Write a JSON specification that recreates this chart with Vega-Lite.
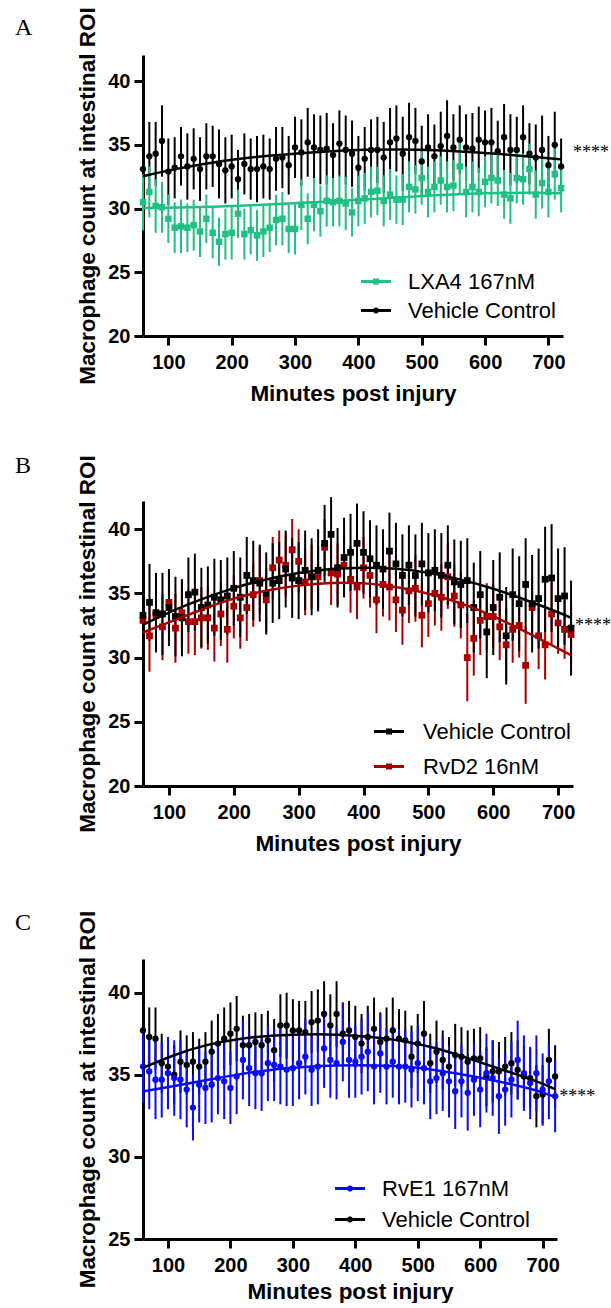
{
"$schema":"https://vega.github.io/schema/vega-lite/v6.json",
"padding":{"left":15,"top":6,"right":0,"bottom":0},
"config":{
 "view":{"stroke":null},
 "font":"Liberation Sans",
 "axis":{"domainColor":"black","domainWidth":3,"tickColor":"black","tickWidth":3,"tickSize":9,"grid":false,"labelFont":"Liberation Sans","labelFontWeight":"bold","labelFontSize":20,"labelColor":"black","titleFont":"Liberation Sans","titleFontWeight":"bold","titleFontSize":22.5,"titleColor":"black"},
 "axisX":{"labelPadding":7,"titlePadding":10},
 "axisY":{"labelPadding":4,"titlePadding":8},
 "legend":{"padding":0,"labelFont":"Liberation Sans","labelFontSize":22,"labelColor":"black","symbolSize":900,"symbolStrokeWidth":3},
 "title":{"font":"Liberation Serif","fontSize":24,"fontWeight":"normal","anchor":"start","frame":"group","baseline":"alphabetic","color":"black"}
},
"spacing":48,
"resolve":{"scale":{"color":"independent","shape":"independent","x":"independent","y":"independent"}},
"vconcat":[
{
 "width":420,"height":281,
 "title":{"text":"A","dx":-128,"offset":-33},
 "layer":[
  {"data":{"name":"A"},"transform":[{"filter":"datum.m < 0"}],"mark":{"type":"point","filled":false,"opacity":1,"strokeWidth":3,"size":900},"encoding":{
   "x":{"field":"m","type":"quantitative","title":"Minutes post injury","scale":{"domain":[60,723],"nice":false,"zero":false},"axis":{"values":[100,200,300,400,500,600,700]}},
   "y":{"field":"v","type":"quantitative","title":"Macrophage count at intestinal ROI","scale":{"domain":[20,42.05],"nice":false,"zero":false},"axis":{"values":[20,25,30,35,40]}},
   "color":{"field":"s","type":"nominal","scale":{"domain":["LXA4 167nM","Vehicle Control"],"range":["#20C084","#000000"]},"legend":{"title":null,"orient":"none","legendX":216.5,"legendY":210,"labelOffset":15.5,"rowPadding":1}},
   "shape":{"field":"s","type":"nominal","scale":{"domain":["LXA4 167nM","Vehicle Control"],"range":["M-1,0H1M-0.1,-0.1H0.1V0.1H-0.1Z","M-1,0H1M0.1,0L0.07,0.07L0,0.1L-0.07,0.07L-0.1,0L-0.07,-0.07L0,-0.1L0.07,-0.07Z"]},"legend":{"title":null,"orient":"none","legendX":216.5,"legendY":210,"labelOffset":15.5,"rowPadding":1}}}},
  {"data":{"name":"A"},"mark":{"type":"errorbar","thickness":2},"encoding":{
   "x":{"field":"m","type":"quantitative","title":"Minutes post injury"},"y":{"field":"v","type":"quantitative","title":"Macrophage count at intestinal ROI"},"yError":{"field":"e"},
   "color":{"field":"s","type":"nominal","legend":null}}},
  {"data":{"name":"A"},"transform":[{"filter":"datum.s === 'Vehicle Control'"}],"mark":{"type":"point","filled":true,"opacity":1,"size":40,"shape":"circle"},"encoding":{
   "x":{"field":"m","type":"quantitative"},"y":{"field":"v","type":"quantitative"},"color":{"field":"s","type":"nominal","legend":null}}},
  {"data":{"name":"A"},"transform":[{"filter":"datum.s === 'LXA4 167nM'"}],"mark":{"type":"point","filled":true,"opacity":1,"size":42,"shape":"square"},"encoding":{
   "x":{"field":"m","type":"quantitative"},"y":{"field":"v","type":"quantitative"},"color":{"field":"s","type":"nominal","legend":null}}},
  {"data":{"name":"Afit"},"mark":{"type":"line","interpolate":"basis","strokeWidth":2.5},"encoding":{
   "x":{"field":"m","type":"quantitative"},"y":{"field":"v","type":"quantitative"},"color":{"field":"s","type":"nominal","legend":null}}},
  {"data":{"values":[{"m":720,"v":34.6,"t":"****"}]},"mark":{"type":"text","align":"left","baseline":"middle","dx":12,"dy":3,"font":"Liberation Serif","fontSize":18,"color":"black"},"encoding":{
   "x":{"field":"m","type":"quantitative"},"y":{"field":"v","type":"quantitative"},"text":{"field":"t"}}}
 ]
},
{
 "vconcat":[
 {
 "width":430,"height":285,
 "title":{"text":"B","dx":-128,"offset":-23},
 "layer":[
  {"data":{"name":"B"},"transform":[{"filter":"datum.m < 0"}],"mark":{"type":"point","filled":false,"opacity":1,"strokeWidth":3,"size":900},"encoding":{
   "x":{"field":"m","type":"quantitative","title":"Minutes post injury","scale":{"domain":[60,723],"nice":false,"zero":false},"axis":{"values":[100,200,300,400,500,600,700]}},
   "y":{"field":"v","type":"quantitative","title":"Macrophage count at intestinal ROI","scale":{"domain":[20,42.2],"nice":false,"zero":false},"axis":{"values":[20,25,30,35,40]}},
   "color":{"field":"s","type":"nominal","scale":{"domain":["Vehicle Control","RvD2 16nM"],"range":["#000000","#A80000"]},"legend":{"title":null,"orient":"none","legendX":229.5,"legendY":214,"labelOffset":17.5,"rowPadding":7}},
   "shape":{"field":"s","type":"nominal","scale":{"domain":["Vehicle Control","RvD2 16nM"],"range":["M-1,0H1M-0.1,-0.1H0.1V0.1H-0.1Z","M-1,0H1M-0.1,-0.1H0.1V0.1H-0.1Z"]},"legend":{"title":null,"orient":"none","legendX":229.5,"legendY":214,"labelOffset":17.5,"rowPadding":7}}}},
  {"data":{"name":"B"},"mark":{"type":"errorbar","thickness":2},"encoding":{
   "x":{"field":"m","type":"quantitative","title":"Minutes post injury"},"y":{"field":"v","type":"quantitative","title":"Macrophage count at intestinal ROI"},"yError":{"field":"e"},
   "color":{"field":"s","type":"nominal","legend":null}}},
  {"data":{"name":"B"},"mark":{"type":"point","filled":true,"opacity":1,"size":46,"shape":"square"},"encoding":{
   "x":{"field":"m","type":"quantitative"},"y":{"field":"v","type":"quantitative"},"color":{"field":"s","type":"nominal","legend":null}}},
  {"data":{"name":"Bfit"},"mark":{"type":"line","interpolate":"basis","strokeWidth":2.5},"encoding":{
   "x":{"field":"m","type":"quantitative"},"y":{"field":"v","type":"quantitative"},"color":{"field":"s","type":"nominal","legend":null}}},
  {"data":{"values":[{"m":720,"v":32.7,"t":"****"}]},"mark":{"type":"text","align":"left","baseline":"middle","dx":4,"dy":3,"font":"Liberation Serif","fontSize":18,"color":"black"},"encoding":{
   "x":{"field":"m","type":"quantitative"},"y":{"field":"v","type":"quantitative"},"text":{"field":"t"}}}
 ]
 },
 {
 "width":414,"height":280,
 "title":{"text":"C","dx":-128,"offset":-25},
 "layer":[
  {"data":{"name":"C"},"transform":[{"filter":"datum.m < 0"}],"mark":{"type":"point","filled":false,"opacity":1,"strokeWidth":3,"size":900},"encoding":{
   "x":{"field":"m","type":"quantitative","title":"Minutes post injury","scale":{"domain":[60,723],"nice":false,"zero":false},"axis":{"values":[100,200,300,400,500,600,700],"titlePadding":5}},
   "y":{"field":"v","type":"quantitative","title":"Macrophage count at intestinal ROI","scale":{"domain":[25,42.05],"nice":false,"zero":false},"axis":{"values":[25,30,35,40]}},
   "color":{"field":"s","type":"nominal","scale":{"domain":["RvE1 167nM","Vehicle Control"],"range":["#0A0AFF","#000000"]},"legend":{"title":null,"orient":"none","legendX":190.5,"legendY":213,"labelOffset":15.5,"rowPadding":3}},
   "shape":{"field":"s","type":"nominal","scale":{"domain":["RvE1 167nM","Vehicle Control"],"range":["M-1,0H1M0.1,0L0.07,0.07L0,0.1L-0.07,0.07L-0.1,0L-0.07,-0.07L0,-0.1L0.07,-0.07Z","M-1,0H1M0.1,0L0.07,0.07L0,0.1L-0.07,0.07L-0.1,0L-0.07,-0.07L0,-0.1L0.07,-0.07Z"]},"legend":{"title":null,"orient":"none","legendX":190.5,"legendY":213,"labelOffset":15.5,"rowPadding":3}}}},
  {"data":{"name":"C"},"mark":{"type":"errorbar","thickness":2},"encoding":{
   "x":{"field":"m","type":"quantitative","title":"Minutes post injury"},"y":{"field":"v","type":"quantitative","title":"Macrophage count at intestinal ROI"},"yError":{"field":"e"},
   "color":{"field":"s","type":"nominal","legend":null}}},
  {"data":{"name":"C"},"mark":{"type":"point","filled":true,"opacity":1,"size":40,"shape":"circle"},"encoding":{
   "x":{"field":"m","type":"quantitative"},"y":{"field":"v","type":"quantitative"},"color":{"field":"s","type":"nominal","legend":null}}},
  {"data":{"name":"Cfit"},"mark":{"type":"line","interpolate":"basis","strokeWidth":2.5},"encoding":{
   "x":{"field":"m","type":"quantitative"},"y":{"field":"v","type":"quantitative"},"color":{"field":"s","type":"nominal","legend":null}}},
  {"data":{"values":[{"m":720,"v":33.85,"t":"****"}]},"mark":{"type":"text","align":"left","baseline":"middle","dx":4,"dy":3,"font":"Liberation Serif","fontSize":18,"color":"black"},"encoding":{
   "x":{"field":"m","type":"quantitative"},"y":{"field":"v","type":"quantitative"},"text":{"field":"t"}}}
 ]
 }
 ],
 "spacing":55,
 "resolve":{"scale":{"color":"independent","shape":"independent","x":"independent","y":"independent"}}
}
],
"datasets":{
"A":[
{"s":"Vehicle Control","m":60,"v":33.1,"e":2.8},{"s":"Vehicle Control","m":70,"v":34.1,"e":2.7},{"s":"Vehicle Control","m":80,"v":34.3,"e":2.5},{"s":"Vehicle Control","m":90,"v":35.3,"e":2.8},{"s":"Vehicle Control","m":100,"v":32.9,"e":2.6},{"s":"Vehicle Control","m":110,"v":33.2,"e":2.4},{"s":"Vehicle Control","m":120,"v":34.1,"e":2.3},{"s":"Vehicle Control","m":130,"v":33.3,"e":2.6},{"s":"Vehicle Control","m":140,"v":33.9,"e":2.4},{"s":"Vehicle Control","m":150,"v":33.1,"e":2.5},
{"s":"Vehicle Control","m":160,"v":34.1,"e":2.6},{"s":"Vehicle Control","m":170,"v":34.1,"e":2.4},{"s":"Vehicle Control","m":180,"v":33.5,"e":2.7},{"s":"Vehicle Control","m":190,"v":33.0,"e":2.6},{"s":"Vehicle Control","m":200,"v":33.3,"e":2.5},{"s":"Vehicle Control","m":210,"v":32.3,"e":2.3},{"s":"Vehicle Control","m":220,"v":33.5,"e":2.4},{"s":"Vehicle Control","m":230,"v":33.1,"e":2.4},{"s":"Vehicle Control","m":240,"v":33.1,"e":2.6},{"s":"Vehicle Control","m":250,"v":33.3,"e":2.5},
{"s":"Vehicle Control","m":260,"v":33.1,"e":2.4},{"s":"Vehicle Control","m":270,"v":33.9,"e":2.5},{"s":"Vehicle Control","m":280,"v":34.0,"e":2.4},{"s":"Vehicle Control","m":290,"v":33.4,"e":2.3},{"s":"Vehicle Control","m":300,"v":34.8,"e":2.4},{"s":"Vehicle Control","m":310,"v":34.4,"e":2.6},{"s":"Vehicle Control","m":320,"v":35.2,"e":2.7},{"s":"Vehicle Control","m":330,"v":34.8,"e":2.6},{"s":"Vehicle Control","m":340,"v":34.6,"e":2.7},{"s":"Vehicle Control","m":350,"v":34.7,"e":2.8},
{"s":"Vehicle Control","m":360,"v":34.2,"e":2.5},{"s":"Vehicle Control","m":370,"v":35.1,"e":2.6},{"s":"Vehicle Control","m":380,"v":34.6,"e":2.7},{"s":"Vehicle Control","m":390,"v":34.3,"e":2.6},{"s":"Vehicle Control","m":400,"v":33.2,"e":2.5},{"s":"Vehicle Control","m":410,"v":33.9,"e":2.5},{"s":"Vehicle Control","m":420,"v":34.6,"e":2.4},{"s":"Vehicle Control","m":430,"v":34.6,"e":2.6},{"s":"Vehicle Control","m":440,"v":34.0,"e":2.8},{"s":"Vehicle Control","m":450,"v":35.2,"e":2.7},
{"s":"Vehicle Control","m":460,"v":35.5,"e":2.6},{"s":"Vehicle Control","m":470,"v":34.3,"e":2.9},{"s":"Vehicle Control","m":480,"v":35.6,"e":2.7},{"s":"Vehicle Control","m":490,"v":35.3,"e":2.6},{"s":"Vehicle Control","m":500,"v":33.7,"e":2.8},{"s":"Vehicle Control","m":510,"v":34.8,"e":2.6},{"s":"Vehicle Control","m":520,"v":34.1,"e":2.5},{"s":"Vehicle Control","m":530,"v":34.9,"e":2.7},{"s":"Vehicle Control","m":540,"v":35.7,"e":2.8},{"s":"Vehicle Control","m":550,"v":34.8,"e":2.6},
{"s":"Vehicle Control","m":560,"v":35.4,"e":2.7},{"s":"Vehicle Control","m":570,"v":34.8,"e":2.6},{"s":"Vehicle Control","m":580,"v":34.7,"e":2.8},{"s":"Vehicle Control","m":590,"v":35.4,"e":2.6},{"s":"Vehicle Control","m":600,"v":35.2,"e":2.5},{"s":"Vehicle Control","m":610,"v":35.2,"e":2.7},{"s":"Vehicle Control","m":620,"v":34.5,"e":2.4},{"s":"Vehicle Control","m":630,"v":35.6,"e":2.6},{"s":"Vehicle Control","m":640,"v":34.6,"e":2.8},{"s":"Vehicle Control","m":650,"v":34.6,"e":2.6},
{"s":"Vehicle Control","m":660,"v":35.6,"e":2.5},{"s":"Vehicle Control","m":670,"v":34.3,"e":2.4},{"s":"Vehicle Control","m":680,"v":34.0,"e":2.6},{"s":"Vehicle Control","m":690,"v":34.6,"e":2.7},{"s":"Vehicle Control","m":700,"v":33.4,"e":2.3},{"s":"Vehicle Control","m":710,"v":35.0,"e":2.6},{"s":"Vehicle Control","m":720,"v":33.3,"e":2.2},
{"s":"LXA4 167nM","m":60,"v":30.5,"e":2.2},{"s":"LXA4 167nM","m":70,"v":31.3,"e":2.0},{"s":"LXA4 167nM","m":80,"v":30.2,"e":2.1},{"s":"LXA4 167nM","m":90,"v":30.1,"e":2.0},{"s":"LXA4 167nM","m":100,"v":29.2,"e":1.9},{"s":"LXA4 167nM","m":110,"v":28.5,"e":2.0},{"s":"LXA4 167nM","m":120,"v":28.6,"e":2.1},{"s":"LXA4 167nM","m":130,"v":28.5,"e":1.9},{"s":"LXA4 167nM","m":140,"v":28.7,"e":2.0},{"s":"LXA4 167nM","m":150,"v":28.2,"e":2.0},
{"s":"LXA4 167nM","m":160,"v":29.2,"e":1.9},{"s":"LXA4 167nM","m":170,"v":28.1,"e":2.0},{"s":"LXA4 167nM","m":180,"v":27.4,"e":1.9},{"s":"LXA4 167nM","m":190,"v":28.0,"e":2.0},{"s":"LXA4 167nM","m":200,"v":28.1,"e":2.1},{"s":"LXA4 167nM","m":210,"v":29.6,"e":1.9},{"s":"LXA4 167nM","m":220,"v":28.0,"e":2.0},{"s":"LXA4 167nM","m":230,"v":28.3,"e":1.9},{"s":"LXA4 167nM","m":240,"v":27.9,"e":2.0},{"s":"LXA4 167nM","m":250,"v":28.2,"e":2.0},
{"s":"LXA4 167nM","m":260,"v":28.5,"e":1.9},{"s":"LXA4 167nM","m":270,"v":29.1,"e":2.0},{"s":"LXA4 167nM","m":280,"v":29.2,"e":2.1},{"s":"LXA4 167nM","m":290,"v":28.4,"e":1.9},{"s":"LXA4 167nM","m":300,"v":28.4,"e":2.0},{"s":"LXA4 167nM","m":310,"v":30.3,"e":2.0},{"s":"LXA4 167nM","m":320,"v":29.2,"e":2.0},{"s":"LXA4 167nM","m":330,"v":30.3,"e":2.1},{"s":"LXA4 167nM","m":340,"v":29.8,"e":2.0},{"s":"LXA4 167nM","m":350,"v":30.6,"e":2.0},
{"s":"LXA4 167nM","m":360,"v":30.5,"e":1.9},{"s":"LXA4 167nM","m":370,"v":30.6,"e":2.0},{"s":"LXA4 167nM","m":380,"v":30.4,"e":2.1},{"s":"LXA4 167nM","m":390,"v":29.7,"e":1.9},{"s":"LXA4 167nM","m":400,"v":30.6,"e":2.0},{"s":"LXA4 167nM","m":410,"v":30.8,"e":2.0},{"s":"LXA4 167nM","m":420,"v":31.3,"e":2.0},{"s":"LXA4 167nM","m":430,"v":31.4,"e":1.9},{"s":"LXA4 167nM","m":440,"v":30.6,"e":2.0},{"s":"LXA4 167nM","m":450,"v":31.1,"e":2.0},
{"s":"LXA4 167nM","m":460,"v":30.7,"e":1.9},{"s":"LXA4 167nM","m":470,"v":30.7,"e":2.0},{"s":"LXA4 167nM","m":480,"v":31.7,"e":2.0},{"s":"LXA4 167nM","m":490,"v":31.5,"e":1.9},{"s":"LXA4 167nM","m":500,"v":32.4,"e":2.1},{"s":"LXA4 167nM","m":510,"v":31.3,"e":2.0},{"s":"LXA4 167nM","m":520,"v":31.7,"e":2.0},{"s":"LXA4 167nM","m":530,"v":32.2,"e":1.9},{"s":"LXA4 167nM","m":540,"v":31.7,"e":2.0},{"s":"LXA4 167nM","m":550,"v":31.8,"e":2.0},
{"s":"LXA4 167nM","m":560,"v":33.3,"e":2.1},{"s":"LXA4 167nM","m":570,"v":31.3,"e":2.0},{"s":"LXA4 167nM","m":580,"v":31.7,"e":2.0},{"s":"LXA4 167nM","m":590,"v":31.3,"e":1.9},{"s":"LXA4 167nM","m":600,"v":32.1,"e":2.0},{"s":"LXA4 167nM","m":610,"v":32.4,"e":2.0},{"s":"LXA4 167nM","m":620,"v":32.2,"e":2.0},{"s":"LXA4 167nM","m":630,"v":31.1,"e":1.9},{"s":"LXA4 167nM","m":640,"v":30.8,"e":2.0},{"s":"LXA4 167nM","m":650,"v":32.4,"e":2.0},
{"s":"LXA4 167nM","m":660,"v":32.3,"e":2.0},{"s":"LXA4 167nM","m":670,"v":33.1,"e":2.0},{"s":"LXA4 167nM","m":680,"v":31.1,"e":1.9},{"s":"LXA4 167nM","m":690,"v":32.0,"e":2.0},{"s":"LXA4 167nM","m":700,"v":31.3,"e":2.0},{"s":"LXA4 167nM","m":710,"v":32.7,"e":2.0},{"s":"LXA4 167nM","m":720,"v":31.6,"e":1.9}
],
"Afit":[
{"s":"Vehicle Control","m":60,"v":32.54},{"s":"Vehicle Control","m":100,"v":33.0},{"s":"Vehicle Control","m":160,"v":33.55},{"s":"Vehicle Control","m":210,"v":33.9},{"s":"Vehicle Control","m":260,"v":34.15},{"s":"Vehicle Control","m":300,"v":34.32},{"s":"Vehicle Control","m":360,"v":34.52},{"s":"Vehicle Control","m":410,"v":34.62},{"s":"Vehicle Control","m":470,"v":34.66},{"s":"Vehicle Control","m":520,"v":34.6},{"s":"Vehicle Control","m":575,"v":34.45},{"s":"Vehicle Control","m":630,"v":34.26},{"s":"Vehicle Control","m":680,"v":34.04},{"s":"Vehicle Control","m":720,"v":33.86},
{"s":"LXA4 167nM","m":60,"v":30.05},{"s":"LXA4 167nM","m":150,"v":30.1},{"s":"LXA4 167nM","m":250,"v":30.3},{"s":"LXA4 167nM","m":350,"v":30.55},{"s":"LXA4 167nM","m":420,"v":30.72},{"s":"LXA4 167nM","m":470,"v":30.9},{"s":"LXA4 167nM","m":520,"v":31.05},{"s":"LXA4 167nM","m":575,"v":31.17},{"s":"LXA4 167nM","m":630,"v":31.23},{"s":"LXA4 167nM","m":680,"v":31.24},{"s":"LXA4 167nM","m":720,"v":31.2}
],
"B":[
{"s":"RvD2 16nM","m":60,"v":32.9,"e":2.6},{"s":"RvD2 16nM","m":70,"v":31.7,"e":2.8},{"s":"RvD2 16nM","m":80,"v":33.3,"e":2.5},{"s":"RvD2 16nM","m":90,"v":32.4,"e":2.6},{"s":"RvD2 16nM","m":100,"v":34.3,"e":2.5},{"s":"RvD2 16nM","m":110,"v":32.3,"e":2.7},{"s":"RvD2 16nM","m":120,"v":33.5,"e":2.6},{"s":"RvD2 16nM","m":130,"v":32.8,"e":2.5},{"s":"RvD2 16nM","m":140,"v":32.8,"e":2.6},{"s":"RvD2 16nM","m":150,"v":33.1,"e":2.4},
{"s":"RvD2 16nM","m":160,"v":33.1,"e":2.5},{"s":"RvD2 16nM","m":170,"v":32.3,"e":2.6},{"s":"RvD2 16nM","m":180,"v":33.4,"e":2.5},{"s":"RvD2 16nM","m":190,"v":32.2,"e":2.6},{"s":"RvD2 16nM","m":200,"v":34.0,"e":2.5},{"s":"RvD2 16nM","m":210,"v":33.1,"e":2.4},{"s":"RvD2 16nM","m":220,"v":33.9,"e":2.6},{"s":"RvD2 16nM","m":230,"v":34.9,"e":2.5},{"s":"RvD2 16nM","m":240,"v":36.0,"e":2.6},{"s":"RvD2 16nM","m":250,"v":34.5,"e":2.5},
{"s":"RvD2 16nM","m":260,"v":37.0,"e":2.4},{"s":"RvD2 16nM","m":270,"v":37.6,"e":2.3},{"s":"RvD2 16nM","m":280,"v":37.2,"e":2.5},{"s":"RvD2 16nM","m":290,"v":38.4,"e":2.4},{"s":"RvD2 16nM","m":300,"v":37.5,"e":2.5},{"s":"RvD2 16nM","m":310,"v":35.9,"e":2.6},{"s":"RvD2 16nM","m":320,"v":36.3,"e":2.5},{"s":"RvD2 16nM","m":330,"v":36.3,"e":2.4},{"s":"RvD2 16nM","m":340,"v":38.6,"e":2.2},{"s":"RvD2 16nM","m":350,"v":36.6,"e":2.5},
{"s":"RvD2 16nM","m":360,"v":36.5,"e":2.4},{"s":"RvD2 16nM","m":370,"v":37.2,"e":2.5},{"s":"RvD2 16nM","m":380,"v":36.1,"e":2.6},{"s":"RvD2 16nM","m":390,"v":35.5,"e":2.5},{"s":"RvD2 16nM","m":400,"v":37.0,"e":2.4},{"s":"RvD2 16nM","m":410,"v":36.4,"e":2.5},{"s":"RvD2 16nM","m":420,"v":34.5,"e":2.6},{"s":"RvD2 16nM","m":430,"v":35.7,"e":2.5},{"s":"RvD2 16nM","m":440,"v":35.5,"e":2.6},{"s":"RvD2 16nM","m":450,"v":34.5,"e":2.5},
{"s":"RvD2 16nM","m":460,"v":33.7,"e":2.7},{"s":"RvD2 16nM","m":470,"v":35.2,"e":2.5},{"s":"RvD2 16nM","m":480,"v":35.4,"e":2.6},{"s":"RvD2 16nM","m":490,"v":33.3,"e":2.5},{"s":"RvD2 16nM","m":500,"v":34.2,"e":2.6},{"s":"RvD2 16nM","m":510,"v":35.0,"e":2.5},{"s":"RvD2 16nM","m":520,"v":34.7,"e":2.6},{"s":"RvD2 16nM","m":530,"v":36.3,"e":2.5},{"s":"RvD2 16nM","m":540,"v":34.8,"e":2.4},{"s":"RvD2 16nM","m":550,"v":34.1,"e":2.6},
{"s":"RvD2 16nM","m":560,"v":30.0,"e":3.4},{"s":"RvD2 16nM","m":570,"v":31.5,"e":2.9},{"s":"RvD2 16nM","m":580,"v":32.9,"e":2.7},{"s":"RvD2 16nM","m":590,"v":33.2,"e":2.6},{"s":"RvD2 16nM","m":600,"v":33.2,"e":2.5},{"s":"RvD2 16nM","m":610,"v":32.4,"e":2.6},{"s":"RvD2 16nM","m":620,"v":31.0,"e":2.8},{"s":"RvD2 16nM","m":630,"v":32.2,"e":2.6},{"s":"RvD2 16nM","m":640,"v":32.5,"e":2.5},{"s":"RvD2 16nM","m":650,"v":29.4,"e":3.0},
{"s":"RvD2 16nM","m":660,"v":33.9,"e":2.4},{"s":"RvD2 16nM","m":670,"v":31.7,"e":2.6},{"s":"RvD2 16nM","m":680,"v":31.0,"e":2.7},{"s":"RvD2 16nM","m":690,"v":33.4,"e":2.5},{"s":"RvD2 16nM","m":700,"v":32.7,"e":2.4},{"s":"RvD2 16nM","m":710,"v":32.2,"e":2.3},{"s":"RvD2 16nM","m":720,"v":31.8,"e":2.4},
{"s":"Vehicle Control","m":60,"v":33.3,"e":3.3},{"s":"Vehicle Control","m":70,"v":34.3,"e":3.0},{"s":"Vehicle Control","m":80,"v":33.5,"e":3.1},{"s":"Vehicle Control","m":90,"v":33.4,"e":3.2},{"s":"Vehicle Control","m":100,"v":33.9,"e":3.0},{"s":"Vehicle Control","m":110,"v":33.2,"e":3.1},{"s":"Vehicle Control","m":120,"v":33.1,"e":3.0},{"s":"Vehicle Control","m":130,"v":34.9,"e":2.9},{"s":"Vehicle Control","m":140,"v":35.1,"e":3.0},{"s":"Vehicle Control","m":150,"v":33.9,"e":3.1},
{"s":"Vehicle Control","m":160,"v":34.1,"e":3.0},{"s":"Vehicle Control","m":170,"v":34.7,"e":3.0},{"s":"Vehicle Control","m":180,"v":34.5,"e":3.1},{"s":"Vehicle Control","m":190,"v":34.8,"e":3.0},{"s":"Vehicle Control","m":200,"v":35.4,"e":2.9},{"s":"Vehicle Control","m":210,"v":34.7,"e":3.1},{"s":"Vehicle Control","m":220,"v":36.4,"e":3.0},{"s":"Vehicle Control","m":230,"v":36.0,"e":3.1},{"s":"Vehicle Control","m":240,"v":35.8,"e":3.0},{"s":"Vehicle Control","m":250,"v":35.0,"e":3.2},
{"s":"Vehicle Control","m":260,"v":35.8,"e":3.1},{"s":"Vehicle Control","m":270,"v":36.0,"e":3.0},{"s":"Vehicle Control","m":280,"v":36.9,"e":3.0},{"s":"Vehicle Control","m":290,"v":36.2,"e":3.1},{"s":"Vehicle Control","m":300,"v":36.0,"e":3.0},{"s":"Vehicle Control","m":310,"v":36.8,"e":3.1},{"s":"Vehicle Control","m":320,"v":36.3,"e":3.0},{"s":"Vehicle Control","m":330,"v":36.8,"e":3.2},{"s":"Vehicle Control","m":340,"v":38.9,"e":3.0},{"s":"Vehicle Control","m":350,"v":39.6,"e":2.9},
{"s":"Vehicle Control","m":360,"v":37.0,"e":3.1},{"s":"Vehicle Control","m":370,"v":37.8,"e":3.1},{"s":"Vehicle Control","m":380,"v":38.2,"e":3.0},{"s":"Vehicle Control","m":390,"v":38.9,"e":3.1},{"s":"Vehicle Control","m":400,"v":38.2,"e":3.2},{"s":"Vehicle Control","m":410,"v":37.7,"e":3.0},{"s":"Vehicle Control","m":420,"v":37.2,"e":3.1},{"s":"Vehicle Control","m":430,"v":36.9,"e":3.1},{"s":"Vehicle Control","m":440,"v":38.3,"e":3.0},{"s":"Vehicle Control","m":450,"v":37.3,"e":3.2},
{"s":"Vehicle Control","m":460,"v":36.4,"e":3.2},{"s":"Vehicle Control","m":470,"v":37.2,"e":3.1},{"s":"Vehicle Control","m":480,"v":36.4,"e":3.2},{"s":"Vehicle Control","m":490,"v":37.3,"e":3.2},{"s":"Vehicle Control","m":500,"v":36.6,"e":3.1},{"s":"Vehicle Control","m":510,"v":36.8,"e":3.2},{"s":"Vehicle Control","m":520,"v":36.4,"e":3.3},{"s":"Vehicle Control","m":530,"v":37.2,"e":3.1},{"s":"Vehicle Control","m":540,"v":35.9,"e":3.3},{"s":"Vehicle Control","m":550,"v":35.7,"e":3.4},
{"s":"Vehicle Control","m":560,"v":36.0,"e":3.3},{"s":"Vehicle Control","m":570,"v":33.9,"e":3.5},{"s":"Vehicle Control","m":580,"v":34.9,"e":3.4},{"s":"Vehicle Control","m":590,"v":32.0,"e":3.6},{"s":"Vehicle Control","m":600,"v":33.9,"e":3.7},{"s":"Vehicle Control","m":610,"v":34.7,"e":3.5},{"s":"Vehicle Control","m":620,"v":31.7,"e":3.8},{"s":"Vehicle Control","m":630,"v":34.9,"e":3.6},{"s":"Vehicle Control","m":640,"v":34.2,"e":3.7},{"s":"Vehicle Control","m":650,"v":35.7,"e":3.6},
{"s":"Vehicle Control","m":660,"v":34.2,"e":3.8},{"s":"Vehicle Control","m":670,"v":34.6,"e":3.9},{"s":"Vehicle Control","m":680,"v":36.1,"e":4.1},{"s":"Vehicle Control","m":690,"v":36.2,"e":4.2},{"s":"Vehicle Control","m":700,"v":34.6,"e":3.9},{"s":"Vehicle Control","m":710,"v":34.8,"e":3.8},{"s":"Vehicle Control","m":720,"v":32.3,"e":3.7}
],
"Bfit":[
{"s":"Vehicle Control","m":60,"v":32.56},{"s":"Vehicle Control","m":100,"v":33.55},{"s":"Vehicle Control","m":150,"v":34.55},{"s":"Vehicle Control","m":200,"v":35.45},{"s":"Vehicle Control","m":250,"v":36.12},{"s":"Vehicle Control","m":300,"v":36.62},{"s":"Vehicle Control","m":350,"v":36.93},{"s":"Vehicle Control","m":400,"v":37.04},{"s":"Vehicle Control","m":450,"v":36.95},{"s":"Vehicle Control","m":500,"v":36.65},{"s":"Vehicle Control","m":550,"v":36.1},{"s":"Vehicle Control","m":600,"v":35.4},{"s":"Vehicle Control","m":650,"v":34.5},{"s":"Vehicle Control","m":700,"v":33.55},{"s":"Vehicle Control","m":720,"v":33.1},
{"s":"RvD2 16nM","m":60,"v":31.96},{"s":"RvD2 16nM","m":100,"v":32.74},{"s":"RvD2 16nM","m":145,"v":33.65},{"s":"RvD2 16nM","m":195,"v":34.56},{"s":"RvD2 16nM","m":245,"v":35.2},{"s":"RvD2 16nM","m":300,"v":35.65},{"s":"RvD2 16nM","m":350,"v":35.85},{"s":"RvD2 16nM","m":400,"v":35.85},{"s":"RvD2 16nM","m":460,"v":35.45},{"s":"RvD2 16nM","m":510,"v":34.9},{"s":"RvD2 16nM","m":565,"v":34.0},{"s":"RvD2 16nM","m":615,"v":32.9},{"s":"RvD2 16nM","m":670,"v":31.5},{"s":"RvD2 16nM","m":720,"v":30.2}
],
"C":[
{"s":"Vehicle Control","m":60,"v":37.7,"e":1.9},{"s":"Vehicle Control","m":70,"v":37.3,"e":1.8},{"s":"Vehicle Control","m":80,"v":37.2,"e":1.9},{"s":"Vehicle Control","m":90,"v":35.7,"e":1.8},{"s":"Vehicle Control","m":100,"v":35.5,"e":1.7},{"s":"Vehicle Control","m":110,"v":35.0,"e":1.8},{"s":"Vehicle Control","m":120,"v":35.8,"e":1.9},{"s":"Vehicle Control","m":130,"v":35.6,"e":1.8},{"s":"Vehicle Control","m":140,"v":35.8,"e":1.8},{"s":"Vehicle Control","m":150,"v":35.5,"e":1.7},
{"s":"Vehicle Control","m":160,"v":35.8,"e":1.8},{"s":"Vehicle Control","m":170,"v":36.4,"e":1.9},{"s":"Vehicle Control","m":180,"v":36.9,"e":1.8},{"s":"Vehicle Control","m":190,"v":37.2,"e":1.9},{"s":"Vehicle Control","m":200,"v":37.5,"e":1.9},{"s":"Vehicle Control","m":210,"v":37.8,"e":2.0},{"s":"Vehicle Control","m":220,"v":36.8,"e":1.8},{"s":"Vehicle Control","m":230,"v":36.8,"e":1.9},{"s":"Vehicle Control","m":240,"v":37.0,"e":1.8},{"s":"Vehicle Control","m":250,"v":36.8,"e":1.9},
{"s":"Vehicle Control","m":260,"v":37.1,"e":1.8},{"s":"Vehicle Control","m":270,"v":36.5,"e":1.9},{"s":"Vehicle Control","m":280,"v":38.0,"e":1.9},{"s":"Vehicle Control","m":290,"v":38.0,"e":2.0},{"s":"Vehicle Control","m":300,"v":37.7,"e":1.9},{"s":"Vehicle Control","m":310,"v":37.7,"e":1.8},{"s":"Vehicle Control","m":320,"v":37.6,"e":1.9},{"s":"Vehicle Control","m":330,"v":38.2,"e":1.9},{"s":"Vehicle Control","m":340,"v":38.3,"e":1.9},{"s":"Vehicle Control","m":350,"v":38.7,"e":2.0},
{"s":"Vehicle Control","m":360,"v":38.0,"e":1.9},{"s":"Vehicle Control","m":370,"v":38.7,"e":2.0},{"s":"Vehicle Control","m":380,"v":37.5,"e":1.9},{"s":"Vehicle Control","m":390,"v":37.7,"e":1.8},{"s":"Vehicle Control","m":400,"v":37.3,"e":1.9},{"s":"Vehicle Control","m":410,"v":36.9,"e":1.8},{"s":"Vehicle Control","m":420,"v":37.3,"e":1.9},{"s":"Vehicle Control","m":430,"v":37.8,"e":1.9},{"s":"Vehicle Control","m":440,"v":37.0,"e":1.8},{"s":"Vehicle Control","m":450,"v":37.2,"e":1.9},
{"s":"Vehicle Control","m":460,"v":37.7,"e":2.0},{"s":"Vehicle Control","m":470,"v":37.2,"e":1.8},{"s":"Vehicle Control","m":480,"v":37.1,"e":1.8},{"s":"Vehicle Control","m":490,"v":36.1,"e":1.9},{"s":"Vehicle Control","m":500,"v":36.9,"e":1.8},{"s":"Vehicle Control","m":510,"v":37.5,"e":2.0},{"s":"Vehicle Control","m":520,"v":35.7,"e":1.8},{"s":"Vehicle Control","m":530,"v":36.4,"e":1.9},{"s":"Vehicle Control","m":540,"v":35.9,"e":1.8},{"s":"Vehicle Control","m":550,"v":35.5,"e":1.8},
{"s":"Vehicle Control","m":560,"v":36.2,"e":1.9},{"s":"Vehicle Control","m":570,"v":36.1,"e":1.8},{"s":"Vehicle Control","m":580,"v":35.8,"e":1.9},{"s":"Vehicle Control","m":590,"v":36.0,"e":1.8},{"s":"Vehicle Control","m":600,"v":36.0,"e":1.9},{"s":"Vehicle Control","m":610,"v":34.9,"e":1.8},{"s":"Vehicle Control","m":620,"v":35.2,"e":1.9},{"s":"Vehicle Control","m":630,"v":35.2,"e":1.8},{"s":"Vehicle Control","m":640,"v":35.5,"e":1.8},{"s":"Vehicle Control","m":650,"v":35.7,"e":1.9},
{"s":"Vehicle Control","m":660,"v":35.3,"e":1.8},{"s":"Vehicle Control","m":670,"v":34.9,"e":1.9},{"s":"Vehicle Control","m":680,"v":34.8,"e":1.8},{"s":"Vehicle Control","m":690,"v":33.7,"e":1.9},{"s":"Vehicle Control","m":700,"v":33.8,"e":1.8},{"s":"Vehicle Control","m":710,"v":35.9,"e":1.9},{"s":"Vehicle Control","m":720,"v":34.9,"e":1.9},
{"s":"RvE1 167nM","m":60,"v":35.5,"e":2.2},{"s":"RvE1 167nM","m":70,"v":35.2,"e":2.3},{"s":"RvE1 167nM","m":80,"v":34.7,"e":2.4},{"s":"RvE1 167nM","m":90,"v":34.7,"e":2.3},{"s":"RvE1 167nM","m":100,"v":35.1,"e":2.2},{"s":"RvE1 167nM","m":110,"v":34.8,"e":2.3},{"s":"RvE1 167nM","m":120,"v":34.7,"e":2.4},{"s":"RvE1 167nM","m":130,"v":34.1,"e":2.3},{"s":"RvE1 167nM","m":140,"v":33.0,"e":2.0},{"s":"RvE1 167nM","m":150,"v":34.4,"e":2.3},
{"s":"RvE1 167nM","m":160,"v":34.2,"e":2.2},{"s":"RvE1 167nM","m":170,"v":34.4,"e":2.3},{"s":"RvE1 167nM","m":180,"v":34.8,"e":2.2},{"s":"RvE1 167nM","m":190,"v":34.6,"e":2.3},{"s":"RvE1 167nM","m":200,"v":34.2,"e":2.2},{"s":"RvE1 167nM","m":210,"v":34.9,"e":2.3},{"s":"RvE1 167nM","m":220,"v":35.9,"e":2.4},{"s":"RvE1 167nM","m":230,"v":35.4,"e":2.3},{"s":"RvE1 167nM","m":240,"v":35.1,"e":2.2},{"s":"RvE1 167nM","m":250,"v":35.1,"e":2.3},
{"s":"RvE1 167nM","m":260,"v":35.7,"e":2.3},{"s":"RvE1 167nM","m":270,"v":35.6,"e":2.2},{"s":"RvE1 167nM","m":280,"v":35.5,"e":2.3},{"s":"RvE1 167nM","m":290,"v":35.3,"e":2.2},{"s":"RvE1 167nM","m":300,"v":35.4,"e":2.3},{"s":"RvE1 167nM","m":310,"v":35.7,"e":2.2},{"s":"RvE1 167nM","m":320,"v":36.1,"e":2.3},{"s":"RvE1 167nM","m":330,"v":35.3,"e":2.2},{"s":"RvE1 167nM","m":340,"v":35.5,"e":2.3},{"s":"RvE1 167nM","m":350,"v":36.6,"e":2.4},
{"s":"RvE1 167nM","m":360,"v":35.9,"e":2.3},{"s":"RvE1 167nM","m":370,"v":35.7,"e":2.2},{"s":"RvE1 167nM","m":380,"v":37.0,"e":2.4},{"s":"RvE1 167nM","m":390,"v":35.9,"e":2.3},{"s":"RvE1 167nM","m":400,"v":35.8,"e":2.2},{"s":"RvE1 167nM","m":410,"v":36.1,"e":2.3},{"s":"RvE1 167nM","m":420,"v":36.4,"e":2.4},{"s":"RvE1 167nM","m":430,"v":35.5,"e":2.3},{"s":"RvE1 167nM","m":440,"v":36.3,"e":2.4},{"s":"RvE1 167nM","m":450,"v":35.5,"e":2.3},
{"s":"RvE1 167nM","m":460,"v":35.8,"e":2.2},{"s":"RvE1 167nM","m":470,"v":35.5,"e":2.3},{"s":"RvE1 167nM","m":480,"v":35.5,"e":2.2},{"s":"RvE1 167nM","m":490,"v":35.3,"e":2.3},{"s":"RvE1 167nM","m":500,"v":35.7,"e":2.3},{"s":"RvE1 167nM","m":510,"v":35.4,"e":2.2},{"s":"RvE1 167nM","m":520,"v":34.6,"e":2.3},{"s":"RvE1 167nM","m":530,"v":34.8,"e":2.2},{"s":"RvE1 167nM","m":540,"v":35.1,"e":2.3},{"s":"RvE1 167nM","m":550,"v":34.6,"e":2.2},
{"s":"RvE1 167nM","m":560,"v":34.0,"e":2.3},{"s":"RvE1 167nM","m":570,"v":34.6,"e":2.2},{"s":"RvE1 167nM","m":580,"v":33.9,"e":2.3},{"s":"RvE1 167nM","m":590,"v":34.7,"e":2.2},{"s":"RvE1 167nM","m":600,"v":34.1,"e":2.3},{"s":"RvE1 167nM","m":610,"v":35.1,"e":2.4},{"s":"RvE1 167nM","m":620,"v":34.8,"e":2.3},{"s":"RvE1 167nM","m":630,"v":33.7,"e":2.3},{"s":"RvE1 167nM","m":640,"v":34.1,"e":2.2},{"s":"RvE1 167nM","m":650,"v":34.7,"e":2.3},
{"s":"RvE1 167nM","m":660,"v":35.9,"e":2.4},{"s":"RvE1 167nM","m":670,"v":35.1,"e":2.3},{"s":"RvE1 167nM","m":680,"v":34.5,"e":2.2},{"s":"RvE1 167nM","m":690,"v":35.1,"e":2.3},{"s":"RvE1 167nM","m":700,"v":34.1,"e":2.2},{"s":"RvE1 167nM","m":710,"v":34.6,"e":2.3},{"s":"RvE1 167nM","m":720,"v":33.7,"e":2.2}
],
"Cfit":[
{"s":"Vehicle Control","m":60,"v":35.42},{"s":"Vehicle Control","m":110,"v":36.22},{"s":"Vehicle Control","m":160,"v":36.83},{"s":"Vehicle Control","m":212,"v":37.19},{"s":"Vehicle Control","m":265,"v":37.39},{"s":"Vehicle Control","m":317,"v":37.47},{"s":"Vehicle Control","m":369,"v":37.47},{"s":"Vehicle Control","m":431,"v":37.3},{"s":"Vehicle Control","m":483,"v":37.03},{"s":"Vehicle Control","m":535,"v":36.59},{"s":"Vehicle Control","m":587,"v":35.92},{"s":"Vehicle Control","m":639,"v":35.26},{"s":"Vehicle Control","m":691,"v":34.62},{"s":"Vehicle Control","m":720,"v":34.12},
{"s":"RvE1 167nM","m":60,"v":33.98},{"s":"RvE1 167nM","m":110,"v":34.32},{"s":"RvE1 167nM","m":160,"v":34.66},{"s":"RvE1 167nM","m":212,"v":35.02},{"s":"RvE1 167nM","m":265,"v":35.32},{"s":"RvE1 167nM","m":317,"v":35.48},{"s":"RvE1 167nM","m":369,"v":35.58},{"s":"RvE1 167nM","m":431,"v":35.58},{"s":"RvE1 167nM","m":483,"v":35.52},{"s":"RvE1 167nM","m":535,"v":35.26},{"s":"RvE1 167nM","m":587,"v":34.92},{"s":"RvE1 167nM","m":639,"v":34.52},{"s":"RvE1 167nM","m":691,"v":34.06},{"s":"RvE1 167nM","m":720,"v":33.65}
]
}
}
